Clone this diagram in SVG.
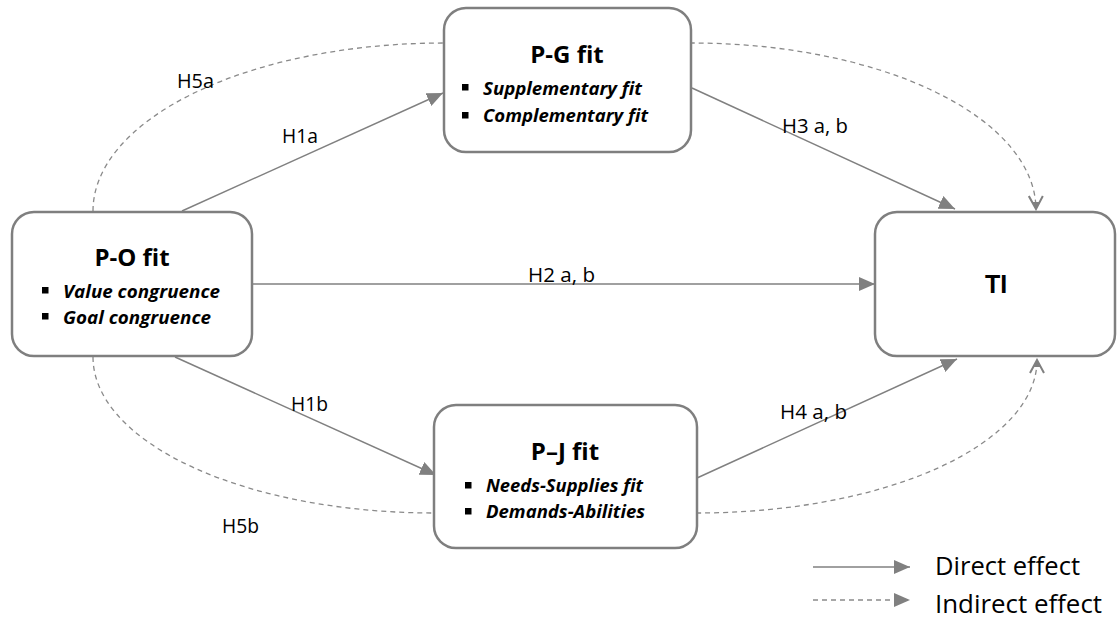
<svg xmlns="http://www.w3.org/2000/svg" width="1117" height="621" viewBox="0 0 1117 621">
<style>
.box{fill:#fff;stroke:#7f7f7f;stroke-width:2.5}
.ln{fill:none;stroke:#808080;stroke-width:1.5}
.dl{fill:none;stroke:#8a8a8a;stroke-width:1.3;stroke-dasharray:5 4}
.t{font-family:"Open Sans","Noto Sans",sans-serif;font-weight:bold;font-size:24px;fill:#000}
.b{font-family:"Open Sans","Noto Sans",sans-serif;font-weight:bold;font-style:italic;font-size:17.5px;fill:#000}
.lab{font-family:"Open Sans","Noto Sans",sans-serif;font-size:19.5px;fill:#000}
.leg{font-family:"Open Sans","Noto Sans",sans-serif;font-size:25px;fill:#000}
.ti{font-family:"Liberation Sans",Arial,sans-serif;font-weight:bold;font-size:25px;fill:#000}
.sq{fill:#000}
</style>
<defs>
<marker id="arr" markerUnits="userSpaceOnUse" markerWidth="16" markerHeight="14" refX="16" refY="7" orient="auto">
<path d="M0,0 L16,7 L0,14 z" fill="#808080"/>
</marker>
<marker id="open" markerUnits="userSpaceOnUse" markerWidth="16" markerHeight="16" refX="14" refY="8" orient="auto">
<path d="M1,1 L14,8 L1,15" fill="none" stroke="#808080" stroke-width="2"/>
<path d="M7,4.5 L14,8 L7,11.5 z" fill="#808080"/>
</marker>
</defs>
<g id="connectors">
<path class="dl" d="M93,211 A351,168 0 0 1 444,43 L692,43 A344,167 0 0 1 1036,209" marker-end="url(#open)"/>
<path class="dl" d="M93,357 A341,156 0 0 0 434,513 L697,513 A340,153 0 0 0 1037,360" marker-end="url(#open)"/>
<path class="ln" d="M182,211 L443,93" marker-end="url(#arr)"/>
<path class="ln" d="M175,357 L436,475" marker-end="url(#arr)"/>
<path class="ln" d="M253,284 L875,284" marker-end="url(#arr)"/>
<path class="ln" d="M692,88 L955,209" marker-end="url(#arr)"/>
<path class="ln" d="M697,478 L957,359" marker-end="url(#arr)"/>
<text class="lab" x="177" y="88" textLength="37" lengthAdjust="spacingAndGlyphs">H5a</text>
<text class="lab" x="282" y="143" textLength="36" lengthAdjust="spacingAndGlyphs">H1a</text>
<text class="lab" x="291" y="411" textLength="37" lengthAdjust="spacingAndGlyphs">H1b</text>
<text class="lab" x="222" y="533" textLength="37" lengthAdjust="spacingAndGlyphs">H5b</text>
<text class="lab" x="528" y="282" textLength="67" lengthAdjust="spacingAndGlyphs">H2 a, b</text>
<text class="lab" x="782" y="133" textLength="66" lengthAdjust="spacingAndGlyphs">H3 a, b</text>
<text class="lab" x="780" y="419" textLength="67" lengthAdjust="spacingAndGlyphs">H4 a, b</text>
</g>
<g id="node-po">
<rect class="box" x="12" y="212" width="240" height="144" rx="22"/>
<text class="t" x="132" y="266" text-anchor="middle">P-O fit</text>
<rect class="sq" x="42" y="287" width="6.5" height="6.5"/>
<text class="b" x="63" y="298" textLength="157" lengthAdjust="spacingAndGlyphs">Value congruence</text>
<rect class="sq" x="42" y="313" width="6.5" height="6.5"/>
<text class="b" x="63" y="324" textLength="148" lengthAdjust="spacingAndGlyphs">Goal congruence</text>
</g>
<g id="node-pg">
<rect class="box" x="444" y="8" width="247" height="144" rx="22"/>
<text class="t" x="567" y="63" text-anchor="middle">P-G fit</text>
<rect class="sq" x="462" y="84" width="6.5" height="6.5"/>
<text class="b" x="483" y="95" textLength="159" lengthAdjust="spacingAndGlyphs">Supplementary fit</text>
<rect class="sq" x="462" y="112" width="6.5" height="6.5"/>
<text class="b" x="483" y="122" textLength="165" lengthAdjust="spacingAndGlyphs">Complementary fit</text>
</g>
<g id="node-pj">
<rect class="box" x="434" y="405" width="263" height="143" rx="22"/>
<text class="t" x="565" y="460" text-anchor="middle">P–J fit</text>
<rect class="sq" x="465" y="482" width="6.5" height="6.5"/>
<text class="b" x="486" y="492" textLength="157" lengthAdjust="spacingAndGlyphs">Needs-Supplies fit</text>
<rect class="sq" x="465" y="508" width="6.5" height="6.5"/>
<text class="b" x="486" y="518" textLength="159" lengthAdjust="spacingAndGlyphs">Demands-Abilities</text>
</g>
<g id="node-ti">
<rect class="box" x="875" y="212" width="240" height="144" rx="22"/>
<text class="ti" x="996" y="293" text-anchor="middle">TI</text>
</g>
<g id="legend">
<path class="ln" d="M813,567 L910,567" marker-end="url(#arr)"/>
<path class="dl" d="M813,600 L910,600" marker-end="url(#arr)"/>
<text class="leg" x="935" y="575" textLength="145" lengthAdjust="spacingAndGlyphs">Direct effect</text>
<text class="leg" x="935" y="613" textLength="167" lengthAdjust="spacingAndGlyphs">Indirect effect</text>
</g>
</svg>
